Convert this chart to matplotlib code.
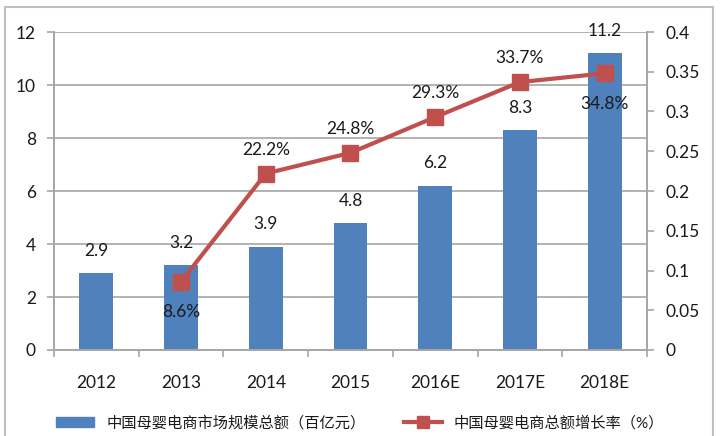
import matplotlib.pyplot as plt
from matplotlib.patches import Rectangle, Patch
from matplotlib.lines import Line2D
import numpy as np

plt.rcParams['font.family'] = ['Lato', 'Noto Sans CJK SC', 'DejaVu Sans']

years = ['2012', '2013', '2014', '2015', '2016E', '2017E', '2018E']
scale = [2.9, 3.2, 3.9, 4.8, 6.2, 8.3, 11.2]
growth_years = ['2013', '2014', '2015', '2016E', '2017E', '2018E']
growth = [0.086, 0.222, 0.248, 0.293, 0.337, 0.348]
growth_pos = ['below', 'above', 'above', 'above', 'above', 'below']
bar_name = '中国母婴电商市场规模总额（百亿元）'
line_name = '中国母婴电商总额增长率（%）'

blue = '#4F81BD'
red = '#C0504D'
grid_c = '#A6A6A6'
txt_c = '#1A1A1A'
fs = 12.5

fig = plt.figure(figsize=(7.2, 4.36), dpi=100)
ax = fig.add_axes([54/720, 1-350/436, 593/720, 318/436])
ax2 = ax.twinx()

x = np.arange(len(years))
ax.bar(x, scale, width=0.4, color=blue, zorder=2)
for xi, v in zip(x, scale):
    ax.annotate(f'{v:.1f}', (xi, v), xytext=(0, 16), textcoords='offset points',
                ha='center', va='center', fontsize=fs, color=txt_c)

gx = np.array([years.index(y) for y in growth_years])
ax2.plot(gx, growth, color=red, lw=3, marker='s', ms=11, zorder=3)
for xi, v, p in zip(gx, growth, growth_pos):
    dy = 17 if p == 'above' else -22
    ax2.annotate(f'{v*100:.1f}%', (xi, v), xytext=(0, dy), textcoords='offset points',
                 ha='center', va='center', fontsize=fs, color=txt_c)

ax.set_xlim(-0.5, len(years) - 0.5)
ax.set_ylim(0, 12)
ax.set_yticks(np.arange(0, 13, 2))
ax2.set_ylim(0, 0.4)
ax2.set_yticks(np.arange(0, 0.41, 0.05))
ax2.set_yticklabels(['0', '0.05', '0.1', '0.15', '0.2', '0.25', '0.3', '0.35', '0.4'])

ax.set_xticks(x)
ax.set_xticklabels(years)
ax.set_xticks(np.arange(-0.5, len(years)), minor=True)
ax.tick_params(axis='x', which='major', length=0, pad=18, labelsize=fs, labelcolor=txt_c)
ax.tick_params(axis='x', which='minor', length=5, width=1.2, color=grid_c)
ax.tick_params(axis='y', length=5, width=1.2, color=grid_c, pad=8, labelsize=fs, labelcolor=txt_c)
ax2.tick_params(axis='y', length=5, width=1.2, color=grid_c, pad=8, labelsize=fs, labelcolor=txt_c)

ax.yaxis.grid(True, color=grid_c, lw=1.2, zorder=0)
ax.set_axisbelow(True)
for a in (ax, ax2):
    a.spines['top'].set_visible(False)
    for s in ('left', 'right', 'bottom'):
        a.spines[s].set_color(grid_c)
        a.spines[s].set_linewidth(1.2)

fig.patches.append(Rectangle((5/720, -0.1), 708/720, 1.1 - 7/436, transform=fig.transFigure,
                             fill=False, edgecolor='#BFBFBF', lw=1.5))

handles = [Patch(color=blue), Line2D([], [], color=red, lw=3, marker='s', ms=8)]
fig.legend(handles, [bar_name, line_name], loc='center', bbox_to_anchor=(0.5, 1 - 423/436),
           ncol=2, frameon=False, fontsize=11, columnspacing=2.5, handlelength=2.5,
           borderpad=0.2, labelcolor=txt_c)

fig.savefig('out.png', dpi=100)
